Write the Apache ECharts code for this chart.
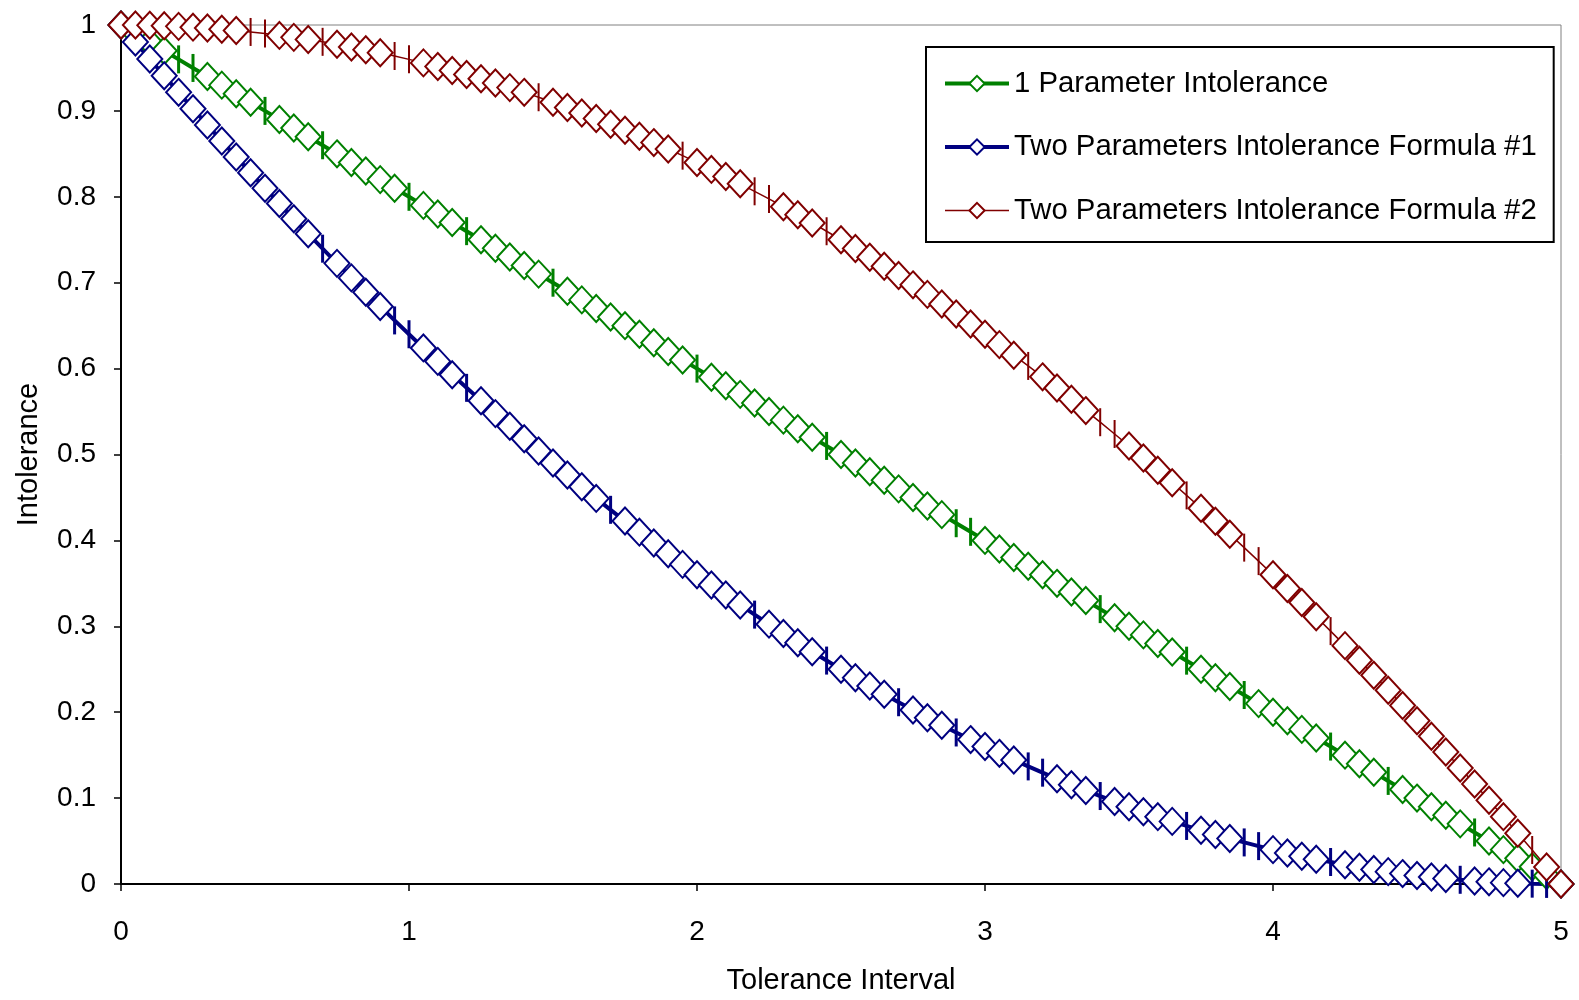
<!DOCTYPE html>
<html>
<head>
  <meta charset="UTF-8">
  <title>Intolerance</title>
  <script src="https://cdn.jsdelivr.net/npm/echarts@6/dist/echarts.min.js"></script>
  <style>
    html, body { margin: 0; padding: 0; background: #fff; }
    #chart { width: 1579px; height: 1000px; }
  </style>
</head>
<body>
  <div id="chart"></div>
  <script type="text/javascript">
    // tolerance interval (x) sample points
    const tolerance = [0,0.05,0.1,0.15,0.2,0.25,0.3,0.35,0.4,0.45,0.5,0.55,0.6,0.65,0.7,0.75,0.8,0.85,0.9,0.95,
      1,1.05,1.1,1.15,1.2,1.25,1.3,1.35,1.4,1.45,1.5,1.55,1.6,1.65,1.7,1.75,1.8,1.85,1.9,1.95,
      2,2.05,2.1,2.15,2.2,2.25,2.3,2.35,2.4,2.45,2.5,2.55,2.6,2.65,2.7,2.75,2.8,2.85,2.9,2.95,
      3,3.05,3.1,3.15,3.2,3.25,3.3,3.35,3.4,3.45,3.5,3.55,3.6,3.65,3.7,3.75,3.8,3.85,3.9,3.95,
      4,4.05,4.1,4.15,4.2,4.25,4.3,4.35,4.4,4.45,4.5,4.55,4.6,4.65,4.7,4.75,4.8,4.85,4.9,4.95,5];

    const oneParam = [1,0.99,0.98,0.97,0.96,0.95,0.94,0.93,0.92,0.91,0.9,0.89,0.88,0.87,0.86,0.85,0.84,0.83,0.82,0.81,
      0.8,0.79,0.78,0.77,0.76,0.75,0.74,0.73,0.72,0.71,0.7,0.69,0.68,0.67,0.66,0.65,0.64,0.63,0.62,0.61,
      0.6,0.59,0.58,0.57,0.56,0.55,0.54,0.53,0.52,0.51,0.5,0.49,0.48,0.47,0.46,0.45,0.44,0.43,0.42,0.41,
      0.4,0.39,0.38,0.37,0.36,0.35,0.34,0.33,0.32,0.31,0.3,0.29,0.28,0.27,0.26,0.25,0.24,0.23,0.22,0.21,
      0.2,0.19,0.18,0.17,0.16,0.15,0.14,0.13,0.12,0.11,0.1,0.09,0.08,0.07,0.06,0.05,0.04,0.03,0.02,0.01,0];

    const twoParam1 = [1,0.9801,0.9604,0.9409,0.9216,0.9025,0.8836,0.8649,0.8464,0.8281,0.81,0.7921,0.7744,0.7569,0.7396,0.7225,0.7056,0.6889,0.6724,0.6561,
      0.64,0.6241,0.6084,0.5929,0.5776,0.5625,0.5476,0.5329,0.5184,0.5041,0.49,0.4761,0.4624,0.4489,0.4356,0.4225,0.4096,0.3969,0.3844,0.3721,
      0.36,0.3481,0.3364,0.3249,0.3136,0.3025,0.2916,0.2809,0.2704,0.2601,0.25,0.2401,0.2304,0.2209,0.2116,0.2025,0.1936,0.1849,0.1764,0.1681,
      0.16,0.1521,0.1444,0.1369,0.1296,0.1225,0.1156,0.1089,0.1024,0.0961,0.09,0.0841,0.0784,0.0729,0.0676,0.0625,0.0576,0.0529,0.0484,0.0441,
      0.04,0.0361,0.0324,0.0289,0.0256,0.0225,0.0196,0.0169,0.0144,0.0121,0.01,0.0081,0.0064,0.0049,0.0036,0.0025,0.0016,0.0009,0.0004,0.0001,0];

    const twoParam2 = [1,0.9999,0.9996,0.9991,0.9984,0.9975,0.9964,0.9951,0.9936,0.9919,0.99,0.9879,0.9856,0.9831,0.9804,0.9775,0.9744,0.9711,0.9676,0.9639,
      0.96,0.9559,0.9516,0.9471,0.9424,0.9375,0.9324,0.9271,0.9216,0.9159,0.91,0.9039,0.8976,0.8911,0.8844,0.8775,0.8704,0.8631,0.8556,0.8479,
      0.84,0.8319,0.8236,0.8151,0.8064,0.7975,0.7884,0.7791,0.7696,0.7599,0.75,0.7399,0.7296,0.7191,0.7084,0.6975,0.6864,0.6751,0.6636,0.6519,
      0.64,0.6279,0.6156,0.6031,0.5904,0.5775,0.5644,0.5511,0.5376,0.5239,0.51,0.4959,0.4816,0.4671,0.4524,0.4375,0.4224,0.4071,0.3916,0.3759,
      0.36,0.3439,0.3276,0.3111,0.2944,0.2775,0.2604,0.2431,0.2256,0.2079,0.19,0.1719,0.1536,0.1351,0.1164,0.0975,0.0784,0.0591,0.0396,0.0199,0];

    // points drawn with a vertical dash instead of a diamond
    const dashOneParam = [0.2,0.25,0.5,0.7,1,1.2,1.5,2,2.45,2.9,2.95,3.4,3.7,3.9,4.2,4.4,4.7];
    const dashTwoParam1 = [0.7,0.95,1,1.2,1.7,2.2,2.45,2.7,2.9,3.15,3.2,3.4,3.7,3.9,3.95,4.2,4.65,4.9,4.95];
    const dashTwoParam2 = [0.45,0.5,0.7,0.95,1,1.45,1.95,2.2,2.25,2.45,3.15,3.4,3.45,3.7,3.9,3.95,4.2,4.9];

    const seriesNames = ['1 Parameter Intolerance', 'Two Parameters Intolerance Formula #1', 'Two Parameters Intolerance Formula #2'];
    const xTicks = [0, 1, 2, 3, 4, 5];

    const font = "'Liberation Sans', Arial, sans-serif";

    function buildData(values, dashes, color, dashWidth) {
      return tolerance.map((x, i) => {
        if (dashes.indexOf(x) >= 0) {
          return {
            value: [x, values[i]],
            symbol: 'rect',
            symbolSize: [dashWidth, 28],
            itemStyle: { color: color, borderWidth: 0 }
          };
        }
        return [x, values[i]];
      });
    }

    function lineSeries(name, values, dashes, color, width, dashWidth) {
      return {
        name: name,
        type: 'line',
        data: buildData(values, dashes, color, dashWidth),
        symbol: 'diamond',
        symbolSize: [25, 27],
        showAllSymbol: true,
        lineStyle: { color: color, width: width },
        itemStyle: { color: '#fff', borderColor: color, borderWidth: 2 },
        emphasis: { disabled: true }
      };
    }

    const chart = echarts.init(document.getElementById('chart'));
    chart.setOption({
      animation: false,
      textStyle: { fontFamily: font },
      grid: {
        left: 121, right: 18, top: 25, bottom: 112,
        show: true, borderColor: '#808080', borderWidth: 1
      },
      legend: {
        orient: 'vertical',
        left: 926, top: 47,
        padding: [22, 17, 17, 17],
        itemGap: 34.5,
        itemWidth: 64, itemHeight: 19,
        borderColor: '#000', borderWidth: 2,
        backgroundColor: '#fff',
        textStyle: { fontFamily: font, fontSize: 29.3, color: '#000' },
        data: [
          { name: seriesNames[0], lineStyle: { width: 4 } },
          { name: seriesNames[1], lineStyle: { width: 4 } },
          { name: seriesNames[2], lineStyle: { width: 1.5 } }
        ]
      },
      xAxis: {
        type: 'value', min: 0, max: 5, interval: 1,
        name: 'Tolerance Interval', nameLocation: 'middle', nameGap: 82,
        nameTextStyle: { fontFamily: font, fontSize: 29, color: '#000' },
        axisLine: { show: true, onZero: false, lineStyle: { color: '#000', width: 2 } },
        axisTick: { show: true, length: 7, lineStyle: { color: '#000', width: 1.5 } },
        axisLabel: {
          margin: 34, fontSize: 28, color: '#000', fontFamily: font,
          formatter: v => (xTicks.indexOf(v) >= 0 ? String(v) : '')
        },
        splitLine: { show: false }
      },
      yAxis: {
        type: 'value', min: 0, max: 1, interval: 0.1,
        name: 'Intolerance', nameLocation: 'middle', nameGap: 78, nameRotate: 90,
        nameTextStyle: { fontFamily: font, fontSize: 29, color: '#000' },
        axisLine: { show: true, onZero: false, lineStyle: { color: '#000', width: 2 } },
        axisTick: { show: true, length: 7, lineStyle: { color: '#000', width: 1.5 } },
        axisLabel: {
          margin: 25, fontSize: 28, color: '#000', fontFamily: font,
          formatter: v => String(Math.round(v * 10) / 10)
        },
        splitLine: { show: false }
      },
      series: [
        lineSeries(seriesNames[0], oneParam, dashOneParam, '#008000', 4, 3),
        lineSeries(seriesNames[1], twoParam1, dashTwoParam1, '#000080', 4, 3),
        lineSeries(seriesNames[2], twoParam2, dashTwoParam2, '#800000', 1.5, 2)
      ]
    });
  </script>
</body>
</html>
